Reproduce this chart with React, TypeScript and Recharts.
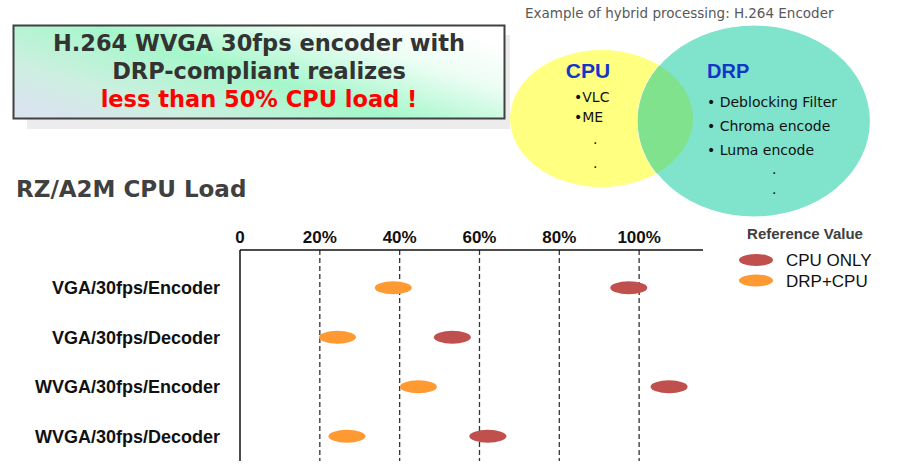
import React from 'react';
import { ScatterChart, Scatter, XAxis, YAxis, ReferenceLine } from 'recharts';

// rows, top to bottom
const categories = [
  'VGA/30fps/Encoder',
  'VGA/30fps/Decoder',
  'WVGA/30fps/Encoder',
  'WVGA/30fps/Decoder',
];
// CPU load in %
const cpuOnly = [97.4, 53.2, 107.5, 62.1];
const drpCpu = [38.4, 24.4, 44.7, 26.8];
const xTicks = [0, 20, 40, 60, 80, 100];

const seriesNames = ['CPU ONLY', 'DRP+CPU'];
const seriesColors = ['#C0504D', '#FF9A33'];

const cpuData = categories.map((name, i) => ({ name, load: cpuOnly[i] }));
const drpData = categories.map((name, i) => ({ name, load: drpCpu[i] }));

const ellipseShape = (color: string) => (props: any) => {
  const { cx, cy } = props;
  if (cx == null || cy == null) return null;
  return <ellipse cx={cx} cy={cy} rx={18.5} ry={6.5} fill={color} />;
};

const headFont = '"DejaVu Sans", Verdana, sans-serif';
const arial = '"Liberation Sans", Arial, sans-serif';

// banner box, venn diagram, title and legend
const Decorations = () => (
  <svg width={900} height={468} style={{ position: 'absolute', left: 0, top: 0 }}>
    <defs>
      <linearGradient id="boxGrad" x1="0" y1="0.8" x2="1" y2="0.2">
        <stop offset="0%" stopColor="#D9E4EE" />
        <stop offset="18%" stopColor="#CDEFE0" />
        <stop offset="48%" stopColor="#A4F7CA" />
        <stop offset="78%" stopColor="#ECFDF4" />
        <stop offset="100%" stopColor="#FFFFFF" />
      </linearGradient>
      <clipPath id="drpClip">
        <ellipse cx={754} cy={121} rx={116.5} ry={96} />
      </clipPath>
    </defs>

    {/* banner */}
    <rect x={27} y={35} width={483} height={94} fill="#ECECEC" />
    <rect x={13.5} y={25.5} width={491} height={93} fill="url(#boxGrad)" stroke="#404040" strokeWidth={2} />
    <g fontFamily={headFont} fontWeight="bold" fontSize={22.5} textAnchor="middle">
      <text x={259} y={50.5} fill="#333333">H.264 WVGA 30fps encoder with</text>
      <text x={259} y={78.5} fill="#333333">DRP-compliant realizes</text>
      <text x={259} y={107} fill="#FF0000">less than 50% CPU load !</text>
    </g>

    {/* venn */}
    <text x={525} y={18} fontFamily={headFont} fontSize={13.5} fill="#595959">
      Example of hybrid processing: H.264 Encoder
    </text>
    <ellipse cx={601.5} cy={118.5} rx={91.5} ry={68.5} fill="#FFFF80" />
    <ellipse cx={754} cy={121} rx={116.5} ry={96} fill="#80E3CC" stroke="#FFFFFF" strokeWidth={1.2} />
    <ellipse cx={601.5} cy={118.5} rx={91.5} ry={68.5} fill="#80E28C" clipPath="url(#drpClip)" />
    <text x={588} y={78} textAnchor="middle" fontFamily={arial} fontWeight="bold" fontSize={21} fill="#1535C8">CPU</text>
    <text x={707} y={78} fontFamily={arial} fontWeight="bold" fontSize={20} fill="#1535C8">DRP</text>
    <g fontFamily={headFont} fontSize={14} fill="#111">
      <text x={574} y={102}>•VLC</text>
      <text x={574} y={122}>•ME</text>
      <text x={593} y={144}>.</text>
      <text x={593} y={168}>.</text>
      <text x={707} y={107}>• Deblocking Filter</text>
      <text x={707} y={131}>• Chroma encode</text>
      <text x={707} y={155}>• Luma encode</text>
      <text x={772} y={174}>.</text>
      <text x={772} y={194}>.</text>
    </g>

    {/* chart title */}
    <text x={16} y={196.5} fontFamily={headFont} fontWeight="bold" fontSize={23} fill="#404040">
      RZ/A2M CPU Load
    </text>

    {/* legend */}
    <text x={805} y={239} textAnchor="middle" fontFamily={arial} fontWeight="bold" fontSize={15} fill="#404040">
      Reference Value
    </text>
    {seriesNames.map((s, i) => (
      <g key={s}>
        <ellipse cx={756} cy={260 + i * 20.5} rx={17} ry={6} fill={seriesColors[i]} />
        <text x={786} y={266 + i * 20.5} fontFamily={arial} fontSize={17} fill="#111">
          {s}
        </text>
      </g>
    ))}
  </svg>
);

export default function App() {
  return (
    <div style={{ position: 'absolute', left: 0, top: 0, width: 900, height: 468, background: '#fff' }}>
      <Decorations />
      <div style={{ position: 'absolute', left: 0, top: 0 }}>
        <ScatterChart width={900} height={468} margin={{ top: 220, right: 197, bottom: 7, left: 10 }}>
          <XAxis
            type="number"
            dataKey="load"
            orientation="top"
            height={30}
            domain={[0, 116]}
            ticks={xTicks}
            allowDataOverflow
            tickFormatter={(v: number) => (v === 0 ? '0' : `${v}%`)}
            tickLine={false}
            tickSize={0}
            tickMargin={7}
            axisLine={{ stroke: '#111', strokeWidth: 1.5 }}
            tick={{ fill: '#111', fontSize: 17, fontWeight: 'bold', fontFamily: arial }}
          />
          <YAxis
            type="category"
            dataKey="name"
            width={230}
            reversed
            ticks={categories}
            allowDuplicatedCategory={false}
            padding={{ top: 13, bottom: 0 }}
            tickLine={false}
            tickSize={0}
            tickMargin={20}
            axisLine={{ stroke: '#111', strokeWidth: 1.5 }}
            tick={{ fill: '#111', fontSize: 18, fontWeight: 'bold', fontFamily: arial }}
          />
          {xTicks.slice(1).map((t) => (
            <ReferenceLine key={t} x={t} stroke="#333" strokeWidth={1.3} strokeDasharray="5 3" />
          ))}
          <Scatter name={seriesNames[0]} data={cpuData} fill={seriesColors[0]} shape={ellipseShape(seriesColors[0])} isAnimationActive={false} />
          <Scatter name={seriesNames[1]} data={drpData} fill={seriesColors[1]} shape={ellipseShape(seriesColors[1])} isAnimationActive={false} />
        </ScatterChart>
      </div>
    </div>
  );
}
